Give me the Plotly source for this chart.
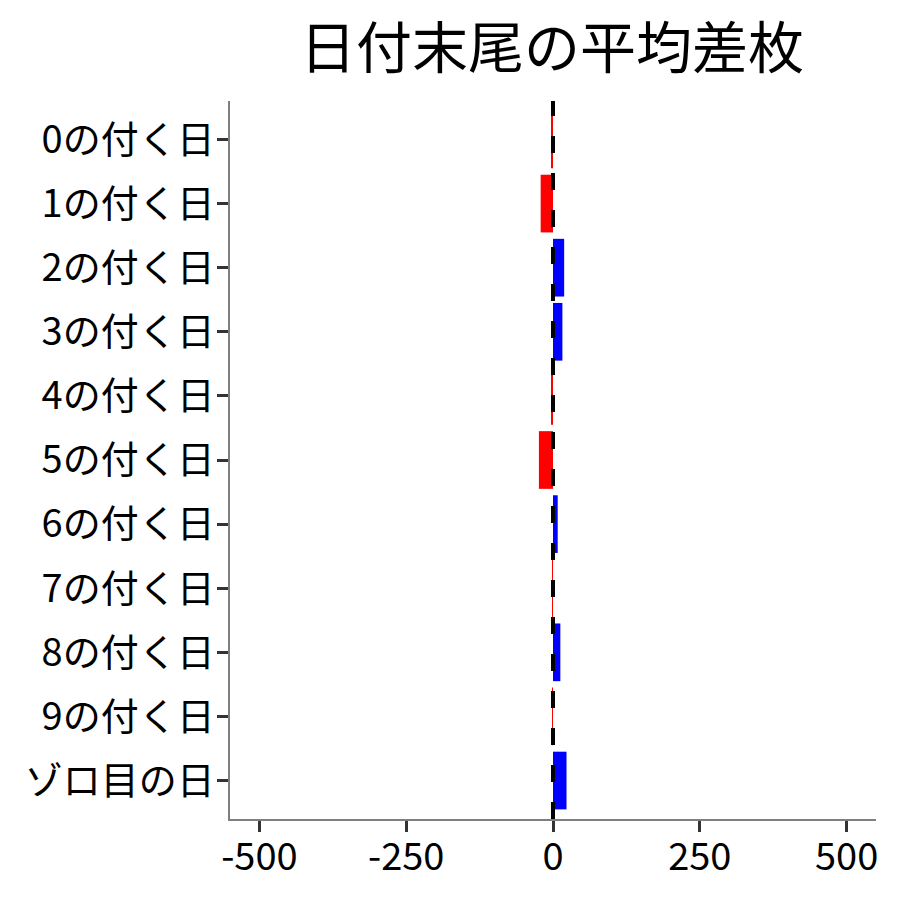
import plotly.graph_objects as go

# 日付末尾ごとの平均差枚
labels = ["0の付く日", "1の付く日", "2の付く日", "3の付く日", "4の付く日",
          "5の付く日", "6の付く日", "7の付く日", "8の付く日", "9の付く日", "ゾロ目の日"]
diffs = [-2, -21, 19, 16, -2, -24, 8, -1.5, 12.5, -1, 23]
tick_vals = [-500, -250, 0, 250, 500]

colors = ["blue" if v > 0 else "red" for v in diffs]
font_jp = "Noto Sans CJK JP"

fig = go.Figure(go.Bar(x=diffs, y=labels, orientation="h", marker_color=colors,
                       marker_line_width=0, width=0.9))

fig.add_shape(type="line", x0=0, x1=0, xref="x", y0=0, y1=1, yref="paper",
              line=dict(color="black", width=4, dash="17px,20px"), layer="above")

fig.update_layout(
    width=892, height=892,
    title=dict(text="日付末尾の平均差枚", x=0.61, xanchor="center", y=0.955, yanchor="middle",
               font=dict(family=font_jp, size=56, color="black")),
    font=dict(family=font_jp, size=38, color="black"),
    plot_bgcolor="white", paper_bgcolor="white",
    margin=dict(l=222, r=24, t=93, b=81),
    showlegend=False,
    bargap=0.1,
)
fig.update_xaxes(range=[-550, 550], tickvals=tick_vals, ticktext=[str(v) for v in tick_vals],
                 showgrid=False, zeroline=False, showline=True, linecolor="#7f7f7f", linewidth=1.5,
                 ticks="outside", ticklen=11, tickwidth=3, tickcolor="#333333",
                 ticklabelstandoff=-7,
                 tickfont=dict(size=38, color="black"))
fig.update_yaxes(categoryorder="array", categoryarray=labels, range=[10.6, -0.6],
                 showgrid=False, zeroline=False, showline=True, linecolor="#7f7f7f", linewidth=1.5,
                 ticks="outside", ticklen=11, tickwidth=3, tickcolor="#333333",
                 ticklabelstandoff=-5,
                 tickfont=dict(size=38, color="black"))

fig.write_html("out.html")
